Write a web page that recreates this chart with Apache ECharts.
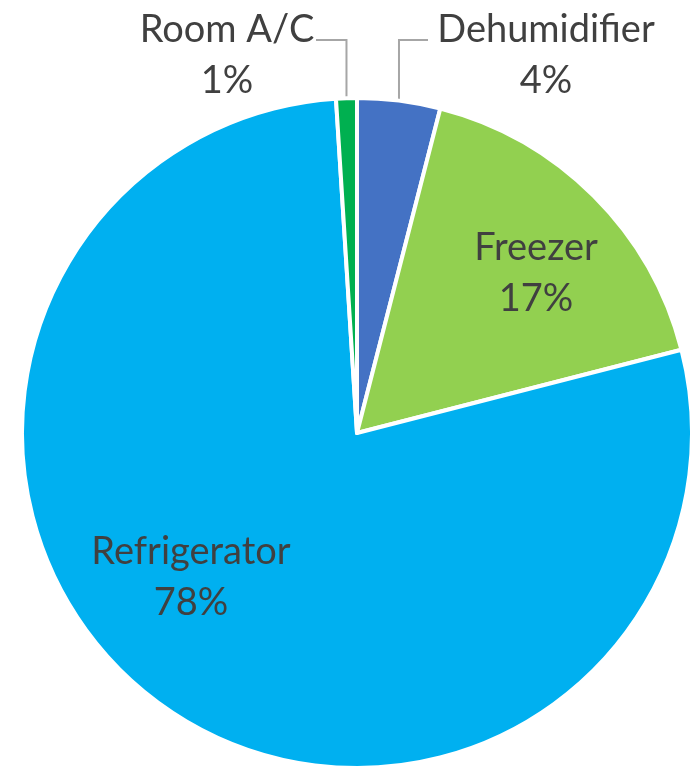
<!DOCTYPE html>
<html>
<head>
<meta charset="utf-8">
<script src="https://cdn.jsdelivr.net/npm/echarts@6/dist/echarts.min.js"></script>
<style>
  html, body { margin: 0; padding: 0; background: #ffffff; }
  #chart { width: 693px; height: 768px; }
</style>
</head>
<body>
<div id="chart"></div>
<script>
// Appliance share of energy use, clockwise from 12 o'clock
const categories = ['Dehumidifier', 'Freezer', 'Refrigerator', 'Room A/C'];
const shares = [4, 17, 78, 1];
const sliceColors = ['#4472C4', '#92D050', '#00B0F0', '#00B050'];
const outsideLabels = ['Dehumidifier', 'Room A/C'];

// Where each label block sits (px), plus the elbow of the leader line for outside labels
const labelSpots = {
  'Dehumidifier': { x: 546, y: 55, lineY: 40, lineEndX: 428 },
  'Freezer':      { x: 536, y: 273 },
  'Refrigerator': { x: 191, y: 577 },
  'Room A/C':     { x: 227, y: 55, lineY: 40, lineEndX: 316 }
};

const chart = echarts.init(document.getElementById('chart'), null, { renderer: 'canvas' });

const pieData = categories.map(function (name, i) {
  const outside = outsideLabels.indexOf(name) !== -1;
  return {
    name: name,
    value: shares[i],
    itemStyle: { color: sliceColors[i] },
    label: { position: outside ? 'outside' : 'inside' },
    labelLine: { show: outside }
  };
});

chart.setOption({
  animation: false,
  backgroundColor: '#ffffff',
  series: [{
    type: 'pie',
    center: [357, 433],
    radius: 335,
    startAngle: 90,
    clockwise: true,
    avoidLabelOverlap: false,
    minShowLabelAngle: 0,
    itemStyle: { borderColor: '#ffffff', borderWidth: 4 },
    label: {
      show: true,
      color: '#404040',
      fontFamily: 'Lato',
      fontSize: 38,
      lineHeight: 51,
      formatter: function (p) { return p.name + '\n' + p.value + '%'; }
    },
    labelLine: {
      lineStyle: { color: '#a6a6a6', width: 2 },
      length: 40,
      length2: 20
    },
    emphasis: { disabled: true },
    labelLayout: function (params) {
      const spot = labelSpots[categories[params.dataIndex]];
      const out = { x: spot.x, y: spot.y, align: 'center', verticalAlign: 'middle' };
      if (spot.lineY != null && params.labelLinePoints) {
        const p0 = params.labelLinePoints[0];
        out.labelLinePoints = [
          [p0[0], p0[1]],
          [p0[0], spot.lineY],
          [spot.lineEndX, spot.lineY]
        ];
      }
      return out;
    },
    data: pieData
  }]
});
</script>
</body>
</html>
